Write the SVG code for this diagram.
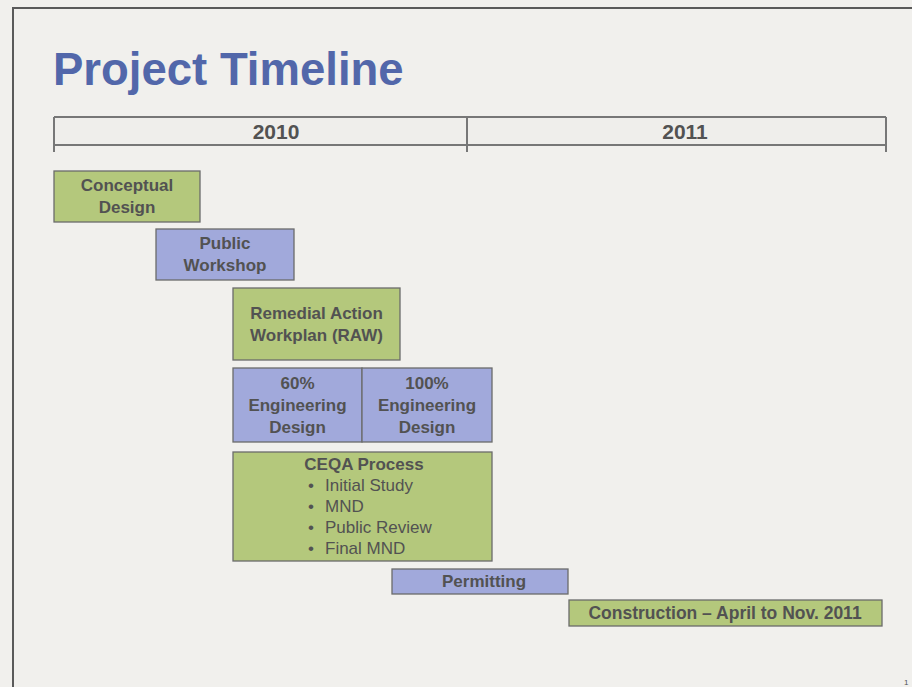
<svg xmlns="http://www.w3.org/2000/svg" width="912" height="687" viewBox="0 0 912 687">
<style>
.bg{fill:#f1f0ed}
.frame{fill:none;stroke:#5a5a5a;stroke-width:2}
.axis{fill:none;stroke:#777;stroke-width:2}
.green{fill:#b4c87c;stroke:#6b6b6b;stroke-width:1.3}
.blue{fill:#a1a9db;stroke:#6b6b6b;stroke-width:1.3}
text{font-family:"Liberation Sans",Arial,sans-serif;fill:#525252}
.t{font-size:17px;font-weight:bold;text-anchor:middle}
.r{font-size:17px}
.title{font-size:45.5px;font-weight:bold;fill:#5267aa}
.yr{font-size:21px;font-weight:bold;text-anchor:middle}
</style>
<rect class="bg" x="0" y="0" width="912" height="687"/>
<path class="frame" d="M13,687 V8 H912"/>
<text class="title" x="53" y="85">Project Timeline</text>
<g id="axis">
<rect x="54" y="117" width="832" height="28" fill="#efeeeb"/>
<path class="axis" d="M54,117 H886 M54,145 H886 M54,117 V152 M467,117 V152 M886,117 V152"/>
<text class="yr" x="276" y="139">2010</text>
<text class="yr" x="685" y="139">2011</text>
</g>
<g id="connectors"></g>
<g id="conceptual">
<rect class="green" x="54" y="171" width="146" height="51"/>
<text class="t" x="127" y="191">Conceptual</text>
<text class="t" x="127" y="213">Design</text>
</g>
<g id="workshop">
<rect class="blue" x="156" y="229" width="138" height="51"/>
<text class="t" x="225" y="249">Public</text>
<text class="t" x="225" y="271">Workshop</text>
</g>
<g id="raw">
<rect class="green" x="233" y="288" width="167" height="72"/>
<text class="t" x="316.5" y="319">Remedial Action</text>
<text class="t" x="316.5" y="341">Workplan (RAW)</text>
</g>
<g id="eng60">
<rect class="blue" x="233" y="368" width="129" height="74"/>
<text class="t" x="297.5" y="389">60%</text>
<text class="t" x="297.5" y="411">Engineering</text>
<text class="t" x="297.5" y="433">Design</text>
</g>
<g id="eng100">
<rect class="blue" x="362" y="368" width="130" height="74"/>
<text class="t" x="427" y="389">100%</text>
<text class="t" x="427" y="411">Engineering</text>
<text class="t" x="427" y="433">Design</text>
</g>
<g id="ceqa">
<rect class="green" x="233" y="452" width="259" height="109"/>
<text class="t" x="364" y="470">CEQA Process</text>
<text class="r" x="308" y="491">•</text><text class="r" x="325" y="491">Initial Study</text>
<text class="r" x="308" y="512">•</text><text class="r" x="325" y="512">MND</text>
<text class="r" x="308" y="533">•</text><text class="r" x="325" y="533">Public Review</text>
<text class="r" x="308" y="554">•</text><text class="r" x="325" y="554">Final MND</text>
</g>
<g id="permitting">
<rect class="blue" x="392" y="569" width="176" height="25"/>
<text class="t" x="484" y="587">Permitting</text>
</g>
<g id="construction">
<rect class="green" x="569" y="600" width="313" height="26"/>
<text class="t" x="725" y="619" style="font-size:17.5px">Construction – April to Nov. 2011</text>
</g>
<text x="904" y="685" style="font-size:8px">1</text>
</svg>
